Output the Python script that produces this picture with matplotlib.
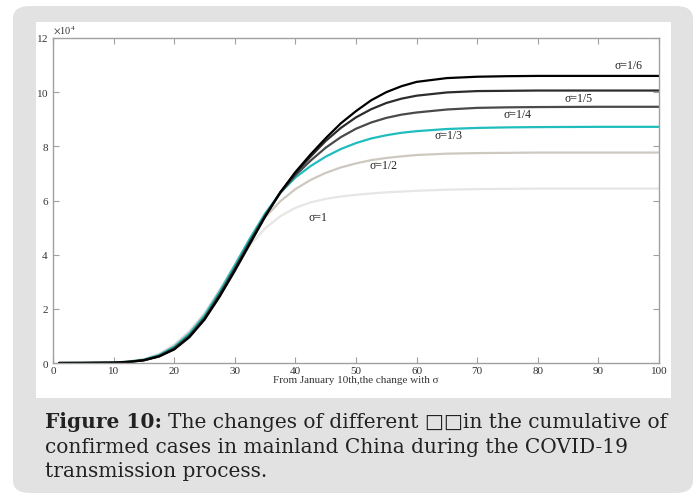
import numpy as np
import matplotlib
matplotlib.use("Agg")
import matplotlib.pyplot as plt
from matplotlib.patches import FancyBboxPatch, Rectangle
from matplotlib.ticker import ScalarFormatter

plt.rcParams['font.family'] = ['Liberation Serif', 'DejaVu Serif']
plt.rcParams['mathtext.fontset'] = 'stix'

# days since January 10th
days = [1, 5, 10, 12.5, 15, 17.5, 20, 22.5, 25, 27.5, 30, 32.5, 35, 37.5, 40,
        42.5, 45, 47.5, 50, 52.5, 55, 57.5, 60, 65, 70, 75, 80, 90, 100]

# cumulative confirmed cases, in units of 10^4
sigma_1_6 = [0, 0.002, 0.01, 0.04, 0.1, 0.24, 0.5, 0.95, 1.6, 2.45, 3.4, 4.4, 5.4,
             6.3, 7.05, 7.7, 8.3, 8.85, 9.3, 9.7, 10.0, 10.22, 10.38, 10.52, 10.57,
             10.59, 10.6, 10.6, 10.6]
sigma_1_5 = [0, 0.002, 0.01, 0.04, 0.1, 0.25, 0.52, 0.98, 1.63, 2.5, 3.45, 4.45, 5.42,
             6.3, 7.0, 7.62, 8.2, 8.68, 9.07, 9.37, 9.6, 9.76, 9.87, 9.99, 10.04,
             10.05, 10.06, 10.06, 10.06]
sigma_1_4 = [0, 0.002, 0.012, 0.045, 0.11, 0.26, 0.55, 1.01, 1.67, 2.54, 3.5, 4.5, 5.45,
             6.28, 6.93, 7.47, 7.95, 8.34, 8.65, 8.88, 9.05, 9.17, 9.25, 9.36, 9.42,
             9.44, 9.45, 9.46, 9.46]
sigma_1_3 = [0, 0.002, 0.014, 0.05, 0.12, 0.29, 0.6, 1.08, 1.75, 2.63, 3.6, 4.6, 5.52,
             6.28, 6.85, 7.27, 7.62, 7.9, 8.12, 8.29, 8.41, 8.5, 8.56, 8.64, 8.68,
             8.7, 8.71, 8.72, 8.72]
sigma_1_2 = [0, 0.002, 0.016, 0.055, 0.13, 0.31, 0.64, 1.13, 1.8, 2.68, 3.63, 4.58, 5.38,
             5.97, 6.42, 6.76, 7.02, 7.22, 7.37, 7.49, 7.57, 7.63, 7.68, 7.73, 7.75,
             7.76, 7.77, 7.77, 7.77]
sigma_1 = [0, 0.002, 0.018, 0.06, 0.14, 0.33, 0.68, 1.18, 1.84, 2.7, 3.58, 4.35, 4.97,
           5.42, 5.73, 5.93, 6.06, 6.15, 6.21, 6.26, 6.3, 6.33, 6.36, 6.4, 6.42,
           6.43, 6.44, 6.44, 6.44]

series = [sigma_1, sigma_1_2, sigma_1_3, sigma_1_4, sigma_1_5, sigma_1_6]
labels = ['σ=1', 'σ=1/2', 'σ=1/3', 'σ=1/4', 'σ=1/5', 'σ=1/6']
colors = ['#e6e6e4', '#cdc9c1', '#1fbdbd', '#4a4a4a', '#2c2c2c', '#000000']
label_x = [43.7, 54.5, 65.3, 76.7, 86.8, 95.0]
label_y = [5.37, 7.29, 8.39, 9.16, 9.75, 10.97]

W, H = 696, 497
fig = plt.figure(figsize=(W / 100, H / 100), dpi=100)
fig.patch.set_facecolor('white')


def px_rect(x0, y0, x1, y1):
    return x0 / W, 1 - y1 / H, (x1 - x0) / W, (y1 - y0) / H


bx, by, bw, bh = px_rect(13, 6, 693, 493)
fig.patches.append(FancyBboxPatch((bx, by), bw, bh,
                                  boxstyle="round,pad=0,rounding_size=0.025",
                                  transform=fig.transFigure, facecolor='#e2e2e2',
                                  edgecolor='none', zorder=-3))
wx, wy, ww, wh = px_rect(36, 22, 671, 398)
fig.patches.append(Rectangle((wx, wy), ww, wh, transform=fig.transFigure,
                             facecolor='white', edgecolor='none', zorder=-2))

ax = fig.add_axes(px_rect(53, 38, 659, 363))
ax.set_facecolor('white')

for vals, col in zip(series, colors):
    ax.plot(days, np.array(vals) * 1e4, color=col, lw=1.6, solid_capstyle='round')

for lab, lx, ly in zip(labels, label_x, label_y):
    ax.text(lx, ly * 1e4, lab, fontsize=8.5, ha='center', va='center', color='#222222')

ax.set_xlim(0, 100)
ax.set_ylim(0, 12e4)
ax.set_xticks(range(0, 101, 10))
ax.set_yticks(np.arange(0, 12.1, 2) * 1e4)
fmt = ScalarFormatter(useMathText=True)
fmt.set_powerlimits((4, 4))
ax.yaxis.set_major_formatter(fmt)
ax.yaxis.get_offset_text().set_fontsize(7.5)
ax.yaxis.get_offset_text().set_color('#333333')

for sp in ax.spines.values():
    sp.set_color('#a0a0a0')
    sp.set_linewidth(1.0)
ax.tick_params(direction='in', length=4, width=0.8, color='#a0a0a0',
               labelsize=8, labelcolor='#333333', top=True, right=True, pad=3)
ax.set_xlabel('From January 10th,the change with σ', fontsize=8, color='#333333',
              labelpad=0)

# caption
cap_font = ['DejaVu Serif']
fig.canvas.draw()
renderer = fig.canvas.get_renderer()
t1 = fig.text(45 / W, 1 - 428 / H, 'Figure 10:', fontsize=14.5, fontweight='bold',
              family=cap_font, color='#222222', zorder=3)
bb = t1.get_window_extent(renderer=renderer)
fig.text(bb.x1 / W + 6 / W, 1 - 428 / H,
         'The changes of different \u25a1\u25a1in the cumulative of',
         fontsize=14.5, family=cap_font, color='#222222', zorder=3)
fig.text(45 / W, 1 - 453 / H,
         'confirmed cases in mainland China during the COVID-19',
         fontsize=14.5, family=cap_font, color='#222222', zorder=3)
fig.text(45 / W, 1 - 477 / H, 'transmission process.',
         fontsize=14.5, family=cap_font, color='#222222', zorder=3)

fig.savefig('out.png', dpi=100, facecolor='white')
